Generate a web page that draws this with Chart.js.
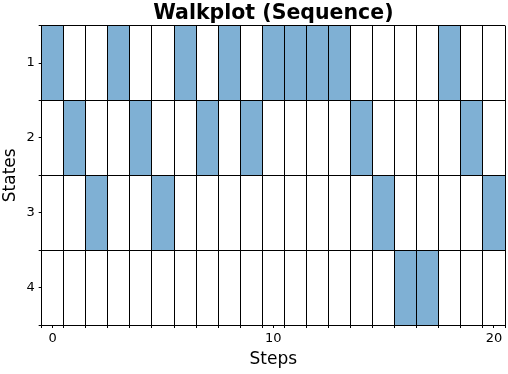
<!DOCTYPE html>
<html>
<head>
<meta charset="utf-8">
<script src="https://cdn.jsdelivr.net/npm/chart.js@4/dist/chart.umd.min.js"></script>
<style>
  html, body { margin: 0; padding: 0; background: #fff; }
  #wrap { width: 508px; height: 374px; }
</style>
</head>
<body>
<div id="wrap"><canvas id="walkChart"></canvas></div>
<script>
// walk data: state visited at each step
const steps = [0, 1, 2, 3, 4, 5, 6, 7, 8, 9, 10, 11, 12, 13, 14, 15, 16, 17, 18, 19, 20];
const visitedStates = [1, 2, 3, 1, 2, 3, 1, 2, 1, 2, 1, 1, 1, 1, 2, 3, 4, 4, 1, 2, 3];
const stateLabels = [1, 2, 3, 4];
const stepTickLabels = [0, 10, 20];

const fillColor = '#7fb0d4';
const fontFamily = '"DejaVu Sans", sans-serif';

// cell edges sit halfway between the integer positions
function edges(list) {
    const out = list.map(v => v - 0.5);
    out.push(list[list.length - 1] + 0.5);
    return out;
}

function isLabelTick(ctx, labels) {
    return ctx.tick && labels.includes(ctx.tick.value);
}

const ctx = document.getElementById('walkChart').getContext('2d');

new Chart(ctx, {
    type: 'bar',
    data: {
        datasets: [{
            label: 'Sequence',
            data: steps.map((s, i) => ({ x: s, y: [visitedStates[i] - 0.5, visitedStates[i] + 0.5] })),
            backgroundColor: fillColor,
            borderWidth: 0,
            categoryPercentage: 1,
            barPercentage: 2  // ruler min is half a step because of the edge ticks
        }]
    },
    options: {
        responsive: true,
        maintainAspectRatio: false,
        animation: false,
        devicePixelRatio: 1,
        layout: { padding: { left: 0, right: 1, top: 1, bottom: 4 } },
        plugins: {
            legend: { display: false },
            tooltip: { enabled: false },
            title: {
                display: true,
                fullSize: false,
                text: 'Walkplot (Sequence)',
                color: '#000',
                font: { family: fontFamily, size: 20.5, weight: 'bold' },
                padding: { top: 0, bottom: 0 }
            }
        },
        scales: {
            x: {
                type: 'linear',
                min: steps[0] - 0.5,
                max: steps[steps.length - 1] + 0.5,
                offset: false,
                afterBuildTicks: axis => {
                    const vals = edges(steps).concat(stepTickLabels).sort((a, b) => a - b);
                    axis.ticks = vals.map(v => ({ value: v }));
                },
                ticks: {
                    autoSkip: false,
                    maxRotation: 0,
                    color: '#000',
                    padding: 3,
                    font: { family: fontFamily, size: 13 },
                    callback: v => stepTickLabels.includes(v) ? String(v) : ''
                },
                grid: {
                    z: 1,
                    offset: false,
                    color: c => isLabelTick(c, stepTickLabels) ? 'rgba(0,0,0,0)' : '#000',
                    tickColor: '#000',
                    tickLength: 3,
                    lineWidth: 1
                },
                border: { display: true, color: '#000', z: 1 },
                title: {
                    display: true,
                    text: 'Steps',
                    color: '#000',
                    font: { family: fontFamily, size: 17 },
                    padding: { top: 0, bottom: 0 }
                }
            },
            y: {
                type: 'linear',
                min: stateLabels[0] - 0.5,
                max: stateLabels[stateLabels.length - 1] + 0.5,
                reverse: true,
                afterBuildTicks: axis => {
                    const vals = edges(stateLabels).concat(stateLabels).sort((a, b) => a - b);
                    axis.ticks = vals.map(v => ({ value: v }));
                },
                ticks: {
                    autoSkip: false,
                    color: '#000',
                    padding: 4,
                    font: { family: fontFamily, size: 13 },
                    callback: v => stateLabels.includes(v) ? String(v) : ''
                },
                grid: {
                    z: 1,
                    color: c => isLabelTick(c, stateLabels) ? 'rgba(0,0,0,0)' : '#000',
                    tickColor: '#000',
                    tickLength: 3,
                    lineWidth: 1
                },
                border: { display: true, color: '#000', z: 1 },
                title: {
                    display: true,
                    text: 'States',
                    color: '#000',
                    font: { family: fontFamily, size: 17 },
                    padding: { top: 0, bottom: 2 }
                }
            }
        }
    }
});
</script>
</body>
</html>
